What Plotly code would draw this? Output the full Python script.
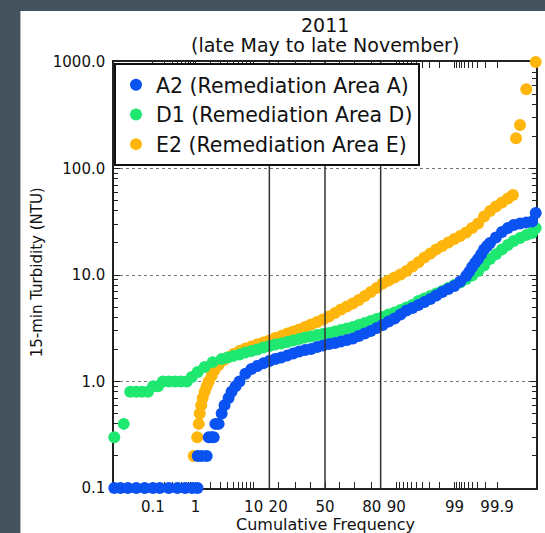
import plotly.graph_objects as go
from statistics import NormalDist

_nd = NormalDist()


def zscore(p):
    return _nd.inv_cdf(p / 100.0)


# ---------------- data (cumulative frequency %, turbidity NTU) ----------------
a2_pct = [0.0077, 0.012, 0.02, 0.035, 0.06, 0.1, 0.15, 0.25, 0.4, 0.6, 0.85, 1.1,
          1.11, 1.34, 1.68,
          1.84, 2.09, 2.28,
          2.45, 2.8,
          3.17, 3.56, 4.16, 4.66, 5.40, 6.23,
          7.65, 9.32, 11.23, 13.41, 15.87, 18.59, 21.60, 24.87, 28.39, 32.13,
          36.05, 40.13, 44.32, 48.57, 52.84, 57.09, 61.25, 65.28, 69.15, 72.81,
          76.24, 79.43, 82.35, 84.99, 87.35, 89.44, 91.26, 92.84, 94.19, 95.34,
          96.29, 97.08, 97.72, 98.24, 98.66, 98.99, 99.243, 99.439, 99.519, 99.589,
          99.649, 99.702, 99.748, 99.786, 99.820, 99.848, 99.893, 99.926, 99.949,
          99.965, 99.977, 99.985, 99.990, 99.9923]
a2_ntu = [0.1, 0.1, 0.1, 0.1, 0.1, 0.1, 0.1, 0.1, 0.1, 0.1, 0.1, 0.1,
          0.2, 0.2, 0.2,
          0.3, 0.3, 0.3,
          0.4, 0.4,
          0.5, 0.6, 0.7, 0.8, 0.9, 1.0,
          1.18, 1.31, 1.40, 1.48, 1.56, 1.63, 1.68, 1.75, 1.83, 1.91,
          1.98, 2.02, 2.11, 2.18, 2.25, 2.30, 2.37, 2.45, 2.53, 2.67,
          2.82, 2.98, 3.18, 3.39, 3.66, 3.90, 4.26, 4.64, 4.90, 5.23,
          5.58, 5.95, 6.42, 6.92, 7.39, 7.88, 8.69, 9.79, 10.7, 11.9,
          13.0, 14.1, 15.7, 17.4, 18.7, 20.0, 22.5, 25.3, 27.6,
          29.5, 30.4, 31.1, 31.8, 38.2]

d1_pct = [0.0077, 0.0150,
          0.0233, 0.0346, 0.0508, 0.0739,
          0.1004, 0.135,
          0.180, 0.252, 0.351, 0.481, 0.653,
          0.836, 1.113, 1.535, 2.18, 3.17,
          4.01, 5.02, 6.23, 7.65, 9.32, 11.23, 13.41, 15.87, 18.59, 21.60,
          24.87, 28.39, 32.13, 36.05, 40.13, 44.32, 48.57, 52.84, 57.09, 61.25,
          65.28, 69.15, 72.81, 76.24, 79.43, 82.35, 84.99, 87.35, 89.44, 91.26,
          92.84, 94.19, 95.34, 96.29, 97.08, 97.72, 98.24, 98.66, 98.99, 99.243,
          99.439, 99.589, 99.702, 99.786, 99.848, 99.893, 99.926, 99.949, 99.965,
          99.977, 99.985, 99.990, 99.9923]
d1_ntu = [0.3, 0.4,
          0.8, 0.8, 0.8, 0.8,
          0.9, 0.9,
          1.0, 1.0, 1.0, 1.0, 1.0,
          1.10, 1.23, 1.37, 1.52, 1.63,
          1.68, 1.74, 1.79, 1.87, 1.93, 2.00, 2.09, 2.15, 2.23, 2.27,
          2.35, 2.43, 2.51, 2.59, 2.65, 2.73, 2.79, 2.85, 2.95, 3.04,
          3.15, 3.25, 3.39, 3.54, 3.70, 3.86, 4.03, 4.26, 4.45, 4.69,
          4.95, 5.23, 5.70, 6.02, 6.35, 6.70, 7.07, 7.55, 8.06, 8.51,
          9.17, 9.89, 10.9, 12.3, 14.1, 15.7, 17.4, 19.1, 20.9,
          22.3, 23.8, 24.8, 27.6]

e2_pct = [0.921, 1.087, 1.167, 1.222, 1.311, 1.404, 1.535, 1.68, 1.835,
          2.09, 2.37, 2.80, 3.43,
          4.01, 5.02, 6.23, 7.65, 9.32, 11.23, 13.41, 15.87, 18.59, 21.60,
          24.87, 28.39, 32.13, 36.05, 40.13, 44.32, 48.57, 52.84, 57.09, 61.25,
          65.28, 69.15, 72.81, 76.24, 79.43, 82.35, 84.99, 87.35, 89.44, 91.26,
          92.84, 94.19, 95.34, 96.29, 97.08, 97.72, 98.24, 98.66, 98.99, 99.243,
          99.439, 99.589, 99.702, 99.786, 99.848, 99.893, 99.926, 99.949, 99.963,
          99.970, 99.977, 99.985, 99.9923]
e2_ntu = [0.2, 0.3, 0.4, 0.5, 0.6, 0.7, 0.8, 0.9, 1.0,
          1.13, 1.28, 1.43, 1.59,
          1.68, 1.81, 1.93, 2.04, 2.13, 2.23, 2.32, 2.43, 2.56, 2.67,
          2.82, 2.95, 3.08, 3.25, 3.43, 3.62, 3.82, 4.08, 4.40, 4.74,
          5.06, 5.40, 5.83, 6.35, 6.92, 7.55, 8.32, 8.88, 9.47, 10.1,
          10.9, 12.0, 13.2, 14.6, 15.9, 17.4, 18.7, 20.2, 21.8, 23.2,
          25.1, 27.6, 30.4, 35.4, 39.9, 44.0, 48.0, 52.3, 56.4,
          192, 256, 555, 1000]

series_names = ["A2 (Remediation Area A)", "D1 (Remediation Area D)", "E2 (Remediation Area E)"]
series_colors = ["#0A52F2", "#1FE871", "#FFB60C"]

x_tick_pct = [0.1, 1, 10, 20, 50, 80, 90, 99, 99.9]
x_tick_text = ["0.1", "1", "10", "20", "50", "80", "90", "99", "99.9"]
x_minor_pct = [0.2, 0.3, 0.4, 0.5, 0.6, 0.7, 0.8, 0.9,
               2, 3, 4, 5, 6, 7, 8, 9,
               30, 40, 60, 70,
               91, 92, 93, 94, 95, 96, 97, 98,
               99.1, 99.2, 99.3, 99.4, 99.5, 99.6, 99.7, 99.8]
ref_line_pct = [15.87, 50, 84.13]   # mean and +/- one standard deviation

y_tick_vals = [0.1, 1, 10, 100, 1000]
y_tick_text = ["0.1", "1.0", "10.0", "100.0", "1000.0"]
y_minor_vals = [m * d for d in (0.1, 1, 10, 100) for m in range(2, 10)]

title_lines = ["2011", "(late May to late November)"]
x_title = "Cumulative Frequency"
y_title = "15-min Turbidity (NTU)"

# ---------------- figure ----------------
FONT = "DejaVu Sans"
W, H = 545, 533
ML, MR, MT, MB = 114, 7, 62, 45
PW, PH = W - ML - MR, H - MT - MB


def px_to_paper_x(px):
    return (px - ML) / PW


def px_to_paper_y(py):
    return (H - MB - py) / PH


fig = go.Figure()

# draw order: E2 bottom, D1, A2 on top; legend order A2, D1, E2
data = [(a2_pct, a2_ntu), (d1_pct, d1_ntu), (e2_pct, e2_ntu)]
for idx in (2, 1, 0):
    pct, ntu = data[idx]
    fig.add_trace(go.Scatter(
        x=[zscore(p) for p in pct], y=ntu,
        mode="markers", name=series_names[idx],
        marker=dict(size=12, color=series_colors[idx], line=dict(width=0)),
        cliponaxis=False, legendrank=idx + 1, showlegend=True,
    ))

zmax = 3.79
fig.update_xaxes(
    range=[-zmax, zmax],
    tickmode="array", tickvals=[zscore(p) for p in x_tick_pct], ticktext=x_tick_text,
    ticks="inside", ticklen=6, tickwidth=1, tickcolor="#222",
    minor=dict(tickmode="array", tickvals=[zscore(p) for p in x_minor_pct],
               ticks="inside", ticklen=6, tickwidth=1, tickcolor="#222", showgrid=False),
    showline=True, linecolor="#222", linewidth=1.5, mirror="ticks",
    showgrid=False, zeroline=False,
    tickfont=dict(family=FONT, size=15, color="#111"),
    ticklabelstandoff=4,
    layer="below traces",
)
fig.update_yaxes(
    type="log", range=[-1, 3],
    tickmode="array", tickvals=y_tick_vals, ticktext=y_tick_text,
    ticks="inside", ticklen=6, tickwidth=1, tickcolor="#222",
    minor=dict(tickmode="array", tickvals=y_minor_vals,
               ticks="inside", ticklen=4, tickwidth=1, tickcolor="#222", showgrid=False),
    showline=True, linecolor="#222", linewidth=1.5, mirror="ticks",
    showgrid=True, gridcolor="#777", griddash="dot", gridwidth=1,
    zeroline=False,
    tickfont=dict(family=FONT, size=15, color="#111"),
    ticklabelstandoff=4,
    layer="below traces",
)

shapes = [
    dict(type="rect", xref="paper", yref="paper",
         x0=px_to_paper_x(20), x1=px_to_paper_x(W + 5),
         y0=px_to_paper_y(H + 5), y1=px_to_paper_y(11),
         fillcolor="white", line=dict(width=0), layer="below"),
]
for p in ref_line_pct:
    zz = zscore(p)
    shapes.append(dict(type="line", xref="x", yref="paper", x0=zz, x1=zz, y0=0, y1=1,
                       line=dict(color="#333", width=1.5), layer="above"))

annotations = [
    dict(text=title_lines[0], xref="paper", yref="paper", x=0.5, y=px_to_paper_y(25),
         xanchor="center", yanchor="middle", showarrow=False,
         font=dict(family=FONT, size=19, color="#111")),
    dict(text=title_lines[1], xref="paper", yref="paper", x=0.5, y=px_to_paper_y(45),
         xanchor="center", yanchor="middle", showarrow=False,
         font=dict(family=FONT, size=19, color="#111")),
    dict(text=x_title, xref="paper", yref="paper", x=0.5, y=px_to_paper_y(524),
         xanchor="center", yanchor="middle", showarrow=False,
         font=dict(family=FONT, size=16, color="#111")),
    dict(text=y_title, xref="paper", yref="paper", x=px_to_paper_x(37), y=px_to_paper_y(272),
         xanchor="center", yanchor="middle", showarrow=False, textangle=-90,
         font=dict(family=FONT, size=15, color="#111")),
]

fig.update_layout(
    width=W, height=H,
    margin=dict(l=ML, r=MR, t=MT, b=MB, pad=0),
    paper_bgcolor="#44535E",
    plot_bgcolor="white",
    shapes=shapes,
    annotations=annotations,
    showlegend=True,
    legend=dict(x=0, y=px_to_paper_y(63), xanchor="left", yanchor="top",
                bgcolor="white", bordercolor="#111", borderwidth=2,
                font=dict(family=FONT, size=20.5, color="#111"),
                traceorder="normal", itemsizing="trace"),
)

fig.write_html("out.html",
               config={"displayModeBar": False},
               post_script="document.body.style.margin='0px';"
                           "document.body.style.background='#44535E';")
